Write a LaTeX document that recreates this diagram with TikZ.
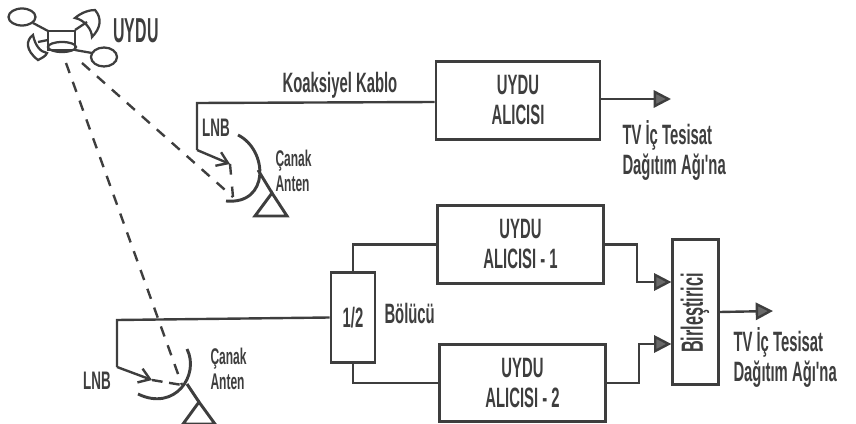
\documentclass[tikz,border=0pt]{standalone}
\usepackage{fontspec}
\usetikzlibrary{arrows.meta}
\newfontfamily\narrowfont[FakeStretch=0.53]{Liberation Sans}
\newfontfamily\titlefont[FakeStretch=0.46]{Liberation Sans}
\definecolor{inkgray}{RGB}{62,62,62}
\definecolor{tipgray}{RGB}{105,105,105}
\tikzset{every picture/.style={line width=0.75pt},
  blockbox/.style={draw=inkgray,line width=2.2pt,inner sep=0pt,align=center},
  wire/.style={draw=inkgray,line width=1.8pt},
  wirearrow/.style={wire,-{Triangle[length=13pt,width=13pt,fill=tipgray]}},
  feedarrow/.style={wire,-{Straight Barb[length=8pt,width=11pt]}},
  beam/.style={draw=inkgray,line width=1.8pt,dash pattern={on 8pt off 7pt}},
  dish/.style={draw=inkgray,line width=2.2pt},
  sat/.style={draw=inkgray,line width=1.7pt},
  lab/.style={font=\narrowfont\bfseries\fontsize{21}{22.5}\selectfont,text=inkgray,inner sep=0pt,align=center},
  sublab/.style={font=\narrowfont\bfseries\fontsize{17}{18.5}\selectfont,text=inkgray,inner sep=0pt,align=left},
}
\begin{document}
\begin{tikzpicture}[x=0.75pt,y=0.75pt,yscale=-1,xscale=1]
\useasboundingbox (0,0) rectangle (856,424);

% boxes
\node [blockbox,minimum width=123pt,minimum height=58pt,lab] (alici) at (518,100.5) {UYDU\\ALICISI};
\node [blockbox,minimum width=124pt,minimum height=58pt,lab] (alicia) at (520.5,244.5) {UYDU\\ALICISI - 1};
\node [blockbox,minimum width=124pt,minimum height=58pt,lab] (alicib) at (522.5,383) {UYDU\\ALICISI - 2};
\node [blockbox,minimum width=33pt,minimum height=68pt,lab] (bolucu) at (353,317.5) {1/2};
\node [blockbox,minimum width=34pt,minimum height=109pt] (birles) at (695.5,312) {};
\node [lab,rotate=90,font=\narrowfont\bfseries\fontsize{23}{24}\selectfont] (birlestxt) at (695,313) {Birleştirici};

% free ends
\coordinate (lnbtop) at (197,103);
\coordinate (lnbtopb) at (197,150);
\coordinate (feedtop) at (230,164);
\coordinate (lnbbot) at (117,320);
\coordinate (lnbbotb) at (117,367);
\coordinate (feedbot) at (152,380);
\coordinate (satfeeda) at (82,63);
\coordinate (satfeedb) at (66,63);
\coordinate (hittop) at (233,197);
\coordinate (hitbot) at (182,385);
\coordinate (outtop) at (671,99);
\coordinate (outbot) at (773,311);

% wires
\draw [wire] (alici.west |- 0,102) -- (lnbtop) -- (lnbtopb);
\draw [feedarrow] (lnbtopb) -- (feedtop);
\draw [wirearrow] (alici.east |- outtop) -- (outtop);
\draw [wire] (bolucu.west) -- (lnbbot) -- (lnbbotb);
\draw [feedarrow] (lnbbotb) -- (feedbot);
\draw [wire] (bolucu.north) |- (alicia.west);
\draw [wire] (bolucu.south) |- (alicib.west);
\draw [wirearrow] (alicia.east) -- (637,244.5) |- (birles.west |- 0,282);
\draw [wirearrow] (alicib.east) -- (639,383) |- (birles.west |- 0,344);
\draw [wirearrow] (birles.east) -- (outbot);

% beams
\draw [beam] (satfeeda) -- (hittop);
\draw [beam] (satfeedb) -- (hitbot);
\draw [beam,dash pattern={on 8pt off 9pt}] (feedtop) -- (hittop);
\draw [beam,dash pattern={on 8pt off 5pt}] (feedbot) -- (hitbot);

% antennas
\draw [dish] (238,135) .. controls (268,150) and (270,205) .. (226,201);
\draw [dish] (258,170) -- (272,193);
\draw [dish] (272,193) -- (287,216) -- (255,216) -- cycle;
\draw [dish] (187,349) .. controls (200,375) and (175,412) .. (138,394);
\draw [dish] (187,384) -- (199,402);
\draw [dish] (199,402) -- (215,424) -- (183,424) -- cycle;

% satellite
\draw [sat] (48,31) rectangle (75,50);
\draw [sat] (62,47) ellipse (14 and 5);
\draw [sat] (22,17) ellipse (13.5 and 8.5);
\draw [sat] (104,57) ellipse (13 and 9.5);
\draw [sat] (33,23) -- (48,31);
\draw [sat] (75,50) -- (92,53);
\draw [sat] (75,30) -- (87,22);
\draw [sat] (48,40) -- (38,42);
\draw [sat] (75,18) .. controls (82,12) and (90,10) .. (95,10) .. controls (102,18) and (101,28) .. (92,37) .. controls (92,30) and (85,20) .. (75,18) -- cycle;
\draw [sat] (33,35) .. controls (26,40) and (25,50) .. (38,60) .. controls (42,58) and (46,56) .. (47,53) .. controls (40,52) and (35,45) .. (33,35) -- cycle;

% labels
\node [lab,font=\titlefont\bfseries\fontsize{26}{28}\selectfont] (uydu) at (136,31) {UYDU};
\node [lab] (koaks) at (340,85) {Koaksiyel Kablo};
\node [lab,font=\narrowfont\bfseries\fontsize{19}{20}\selectfont] (lnba) at (216,128) {LNB};
\node [lab,font=\narrowfont\bfseries\fontsize{19}{20}\selectfont] (lnbb) at (97,381) {LNB};
\node [sublab,anchor=west] (canaka) at (275,171) {Çanak\\Anten};
\node [sublab,anchor=west] (canakb) at (210,369) {Çanak\\Anten};
\node [lab,anchor=west] (bolutxt) at (384,313) {Bölücü};
\node [lab,align=left,anchor=west] (tva) at (622,150) {TV İç Tesisat\\Dağıtım Ağı'na};
\node [lab,align=left,anchor=west] (tvb) at (733,357) {TV İç Tesisat\\Dağıtım Ağı'na};
\end{tikzpicture}
\end{document}
